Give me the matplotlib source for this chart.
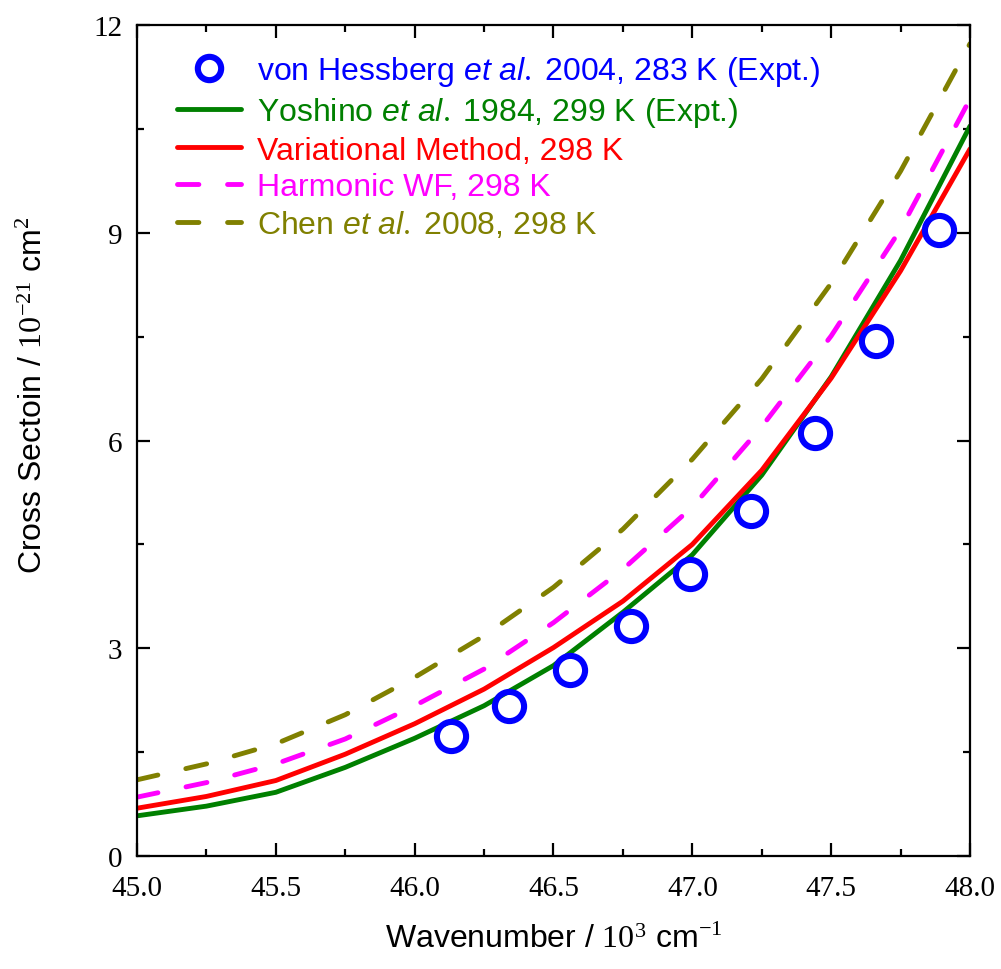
import matplotlib
matplotlib.use("Agg")
import matplotlib.pyplot as plt
from matplotlib.ticker import MultipleLocator, FormatStrFormatter

plt.rcParams['font.family'] = 'Liberation Serif'
plt.rcParams['mathtext.fontset'] = 'custom'
plt.rcParams['mathtext.rm'] = 'Liberation Serif'
plt.rcParams['mathtext.it'] = 'Liberation Sans:italic'
plt.rcParams['mathtext.bf'] = 'Liberation Sans:bold'

# ---- data ----
curve_x = [45.0, 45.25, 45.5, 45.75, 46.0, 46.25, 46.5, 46.75, 47.0, 47.25, 47.5, 47.75, 48.0]
yoshino = [0.58, 0.72, 0.92, 1.28, 1.70, 2.17, 2.75, 3.52, 4.35, 5.50, 6.92, 8.60, 10.54]
variational = [0.69, 0.86, 1.09, 1.47, 1.91, 2.41, 3.01, 3.68, 4.50, 5.57, 6.90, 8.45, 10.21]
harmonic = [0.85, 1.06, 1.33, 1.69, 2.17, 2.70, 3.37, 4.14, 5.04, 6.20, 7.51, 9.05, 10.93]
chen = [1.10, 1.33, 1.62, 2.04, 2.58, 3.18, 3.88, 4.72, 5.73, 6.89, 8.27, 9.89, 11.73]

hess_x = [46.13, 46.34, 46.56, 46.78, 46.99, 47.21, 47.44, 47.66, 47.89]
hess_y = [1.73, 2.17, 2.69, 3.32, 4.07, 4.98, 6.11, 7.44, 9.04]

labels = [r'von Hessberg $\mathit{et\ al.}\;$2004, 283 K (Expt.)',
          r'Yoshino $\mathit{et\ al.}\;$1984, 299 K (Expt.)',
          'Variational Method, 298 K',
          'Harmonic WF, 298 K',
          r'Chen $\mathit{et\ al.}\;$2008, 298 K']
colors = ['#0000ff', '#008000', '#ff0000', '#ff00ff', '#808000']

fig = plt.figure(figsize=(10.01, 9.70), dpi=100)
ax = fig.add_axes([137/1001, 113/970, 833/1001, 831/970])

lw = 3.5
h0, = ax.plot(hess_x, hess_y, linestyle='none', marker='o', markersize=21,
              markerfacecolor='none', markeredgecolor=colors[0], markeredgewidth=4.4,
              zorder=5)
h1, = ax.plot(curve_x, yoshino, color=colors[1], lw=lw, solid_capstyle='round',
              solid_joinstyle='round')
h2, = ax.plot(curve_x, variational, color=colors[2], lw=lw, solid_capstyle='round',
              solid_joinstyle='round')
h3, = ax.plot(curve_x, harmonic, color=colors[3], lw=lw, dashes=(4.4, 5.9),
              dash_capstyle='round')
h4, = ax.plot(curve_x, chen, color=colors[4], lw=lw, dashes=(4.4, 5.9),
              dash_capstyle='round')

ax.set_xlim(45.0, 48.0)
ax.set_ylim(0, 12)
ax.xaxis.set_major_locator(MultipleLocator(0.5))
ax.xaxis.set_minor_locator(MultipleLocator(0.25))
ax.yaxis.set_major_locator(MultipleLocator(3))
ax.yaxis.set_minor_locator(MultipleLocator(1.5))
ax.xaxis.set_major_formatter(FormatStrFormatter('%.1f'))
ax.yaxis.set_major_formatter(FormatStrFormatter('%d'))

for s in ax.spines.values():
    s.set_linewidth(1.6)
ax.tick_params(which='both', direction='in', top=True, right=True, width=1.6,
               labelsize=21)
ax.tick_params(which='major', length=9.5)
ax.tick_params(which='minor', length=5)
ax.tick_params(axis='x', which='major', pad=14)
ax.tick_params(axis='y', which='major', pad=10.5)

ax.set_xlabel(r'Wavenumber / $\mathrm{10^{3}}$ cm$^{\mathrm{-1}}$',
              fontfamily='Liberation Sans', fontsize=23)
ax.set_ylabel(r'Cross Sectoin / $\mathrm{10^{-21}}$ cm$^{\mathrm{2}}$',
              fontfamily='Liberation Sans', fontsize=23)
ax.xaxis.set_label_coords(0.5, -0.10)
ax.xaxis.label.set_va('center')
ax.yaxis.set_label_coords(-0.124, 0.556)
ax.yaxis.label.set_va('center')

leg = ax.legend([h0, h1, h2, h3, h4], labels, loc='upper left',
                bbox_to_anchor=(0.048, 0.965), frameon=False,
                prop={'family': 'Liberation Sans', 'size': 23},
                handlelength=2.0, handletextpad=0.5, labelspacing=0.21,
                borderpad=0, borderaxespad=0, markerscale=0.8)
for txt, c in zip(leg.get_texts(), colors):
    txt.set_color(c)

fig.savefig('out.png', dpi=100)
